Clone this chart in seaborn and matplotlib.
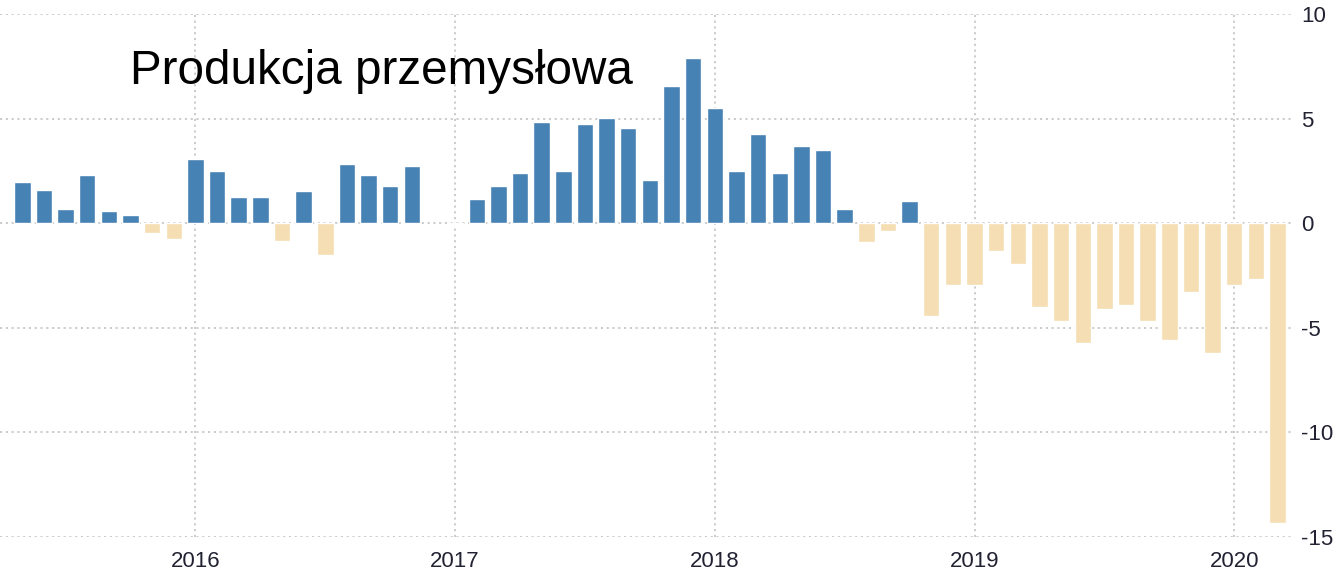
import numpy as np
import pandas as pd
import matplotlib
matplotlib.use("Agg")
import matplotlib.pyplot as plt
import seaborn as sns

# monthly y/y change, May 2015 .. Mar 2020 (Dec 2016 missing)
years = [2015] * 8 + [2016] * 12 + [2017] * 12 + [2018] * 12 + [2019] * 12 + [2020] * 3
months = list(range(5, 13)) + list(range(1, 13)) * 4 + [1, 2, 3]
values = [2.0, 1.6, 0.7, 2.3, 0.6, 0.4, -0.45, -0.75,
          3.1, 2.5, 1.25, 1.25, -0.85, 1.55, -1.5, 2.85, 2.3, 1.8, 2.75, None,
          -0.05, 1.15, 1.8, 2.4, 4.85, 2.5, 4.75, 5.05, 4.55, 2.1, 6.55, 7.9,
          5.5, 2.5, 4.3, 2.4, 3.7, 3.5, 0.7, -0.9, -0.35, 1.05, -4.45, -2.95,
          -2.95, -1.3, -1.95, -4.0, -4.65, -5.7, -4.1, -3.9, -4.65, -5.6, -3.3, -6.2,
          -2.95, -2.65, -14.35]
year_ticks = [2016, 2017, 2018, 2019, 2020]
title = "Produkcja przemysłowa"

labels = ["%d-%02d" % (y, m) for y, m in zip(years, months)]
df = pd.DataFrame({"month": labels, "value": values})
df = df.dropna()
df["sign"] = np.where(df["value"] >= 0, "pos", "neg")

sns.set_style("white")
plt.rcParams["font.family"] = ["Liberation Sans", "DejaVu Sans"]
plt.rcParams["axes.unicode_minus"] = False

fig = plt.figure(figsize=(13.34, 5.74), dpi=100)
ax = fig.add_axes([0.0, 0.0645, 0.970, 0.9105])

sns.barplot(data=df, x="month", y="value", hue="sign", order=labels,
            palette={"pos": "#4682B4", "neg": "#F5DEB3"}, dodge=False, saturation=1,
            width=0.76, errorbar=None, legend=False, ax=ax, zorder=3)

tick_pos = [labels.index("%d-01" % y) for y in year_ticks]
ax.set_xticks(tick_pos)
ax.set_xticklabels([str(y) for y in year_ticks])
ax.set_xlim(-1.03, 58.76)
ax.set_ylim(-15, 10)
ax.set_yticks([10, 5, 0, -5, -10, -15])
ax.yaxis.tick_right()
ax.set_xlabel("")
ax.set_ylabel("")

ax.grid(True, axis="both", color="#c8c8c8", linestyle=(0, (1.2, 2)), linewidth=1.3, zorder=0)
ax.set_axisbelow(True)
for s in ax.spines.values():
    s.set_visible(False)

ax.tick_params(axis="y", length=0, pad=5, labelsize=16, labelcolor="#222233")
ax.tick_params(axis="x", length=5, width=1, color="#c8c8c8", pad=5, labelsize=16,
               labelcolor="#222233", direction="out")

fig.text(130 / 1334, 1 - 84 / 574, title, fontsize=34.3, color="black",
         va="baseline", ha="left")

fig.savefig("out.png", dpi=100)
